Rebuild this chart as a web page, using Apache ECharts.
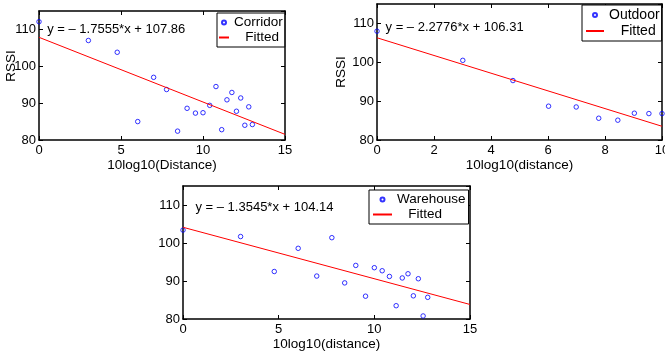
<!DOCTYPE html>
<html>
<head>
<meta charset="utf-8">
<script src="https://cdn.jsdelivr.net/npm/echarts@6/dist/echarts.min.js"></script>
<style>
html,body{margin:0;padding:0;background:#fff;}
#chart{width:665px;height:353px;}
</style>
</head>
<body>
<div id="chart"></div>
<script>
// 10log10(distance) for distances 1..20 m
const distanceDb = [0, 3.01, 4.77, 6.02, 6.99, 7.78, 8.45, 9.03, 9.54, 10, 10.41, 10.79, 11.14, 11.46, 11.76, 12.04, 12.30, 12.55, 12.79, 13.01];

const corridorX = distanceDb.slice(0, 20);
const corridorY = [112.1, 107.0, 103.8, 85.0, 97.0, 93.7, 82.4, 88.6, 87.3, 87.4, 89.4, 94.5, 82.8, 90.9, 92.9, 87.8, 91.4, 84.0, 89.0, 84.2];

const outdoorX = distanceDb.slice(0, 10);
const outdoorY = [108.0, 100.5, 95.3, 88.7, 88.5, 85.6, 85.1, 86.9, 86.8, 86.8];

const warehouseX = distanceDb.slice(0, 19);
const warehouseY = [103.4, 101.7, 92.5, 98.6, 91.3, 101.4, 89.5, 94.1, 86.0, 93.5, 92.7, 91.2, 83.5, 90.8, 91.9, 86.1, 90.6, 80.8, 85.7];

// fitted line end points
const fitCorridorX = [0, 15];
const fitCorridorY = [107.86, 81.53];
const fitOutdoorX = [0, 10];
const fitOutdoorY = [106.31, 83.53];
const fitWarehouseX = [0, 15];
const fitWarehouseY = [104.14, 83.82];

const equations = ['y = \u2013 1.7555*x + 107.86', 'y = \u2013 2.2776*x + 106.31', 'y = \u2013 1.3545*x + 104.14'];
const equationAnchors = [[0.5, 110], [0.3, 109], [0.65, 109.3]];
const seriesNames = ['Corridor', 'Outdoor', 'Warehouse'];
const xNames = ['10log10(Distance)', '10log10(distance)', '10log10(distance)'];

const zip = (xs, ys) => xs.map((x, i) => [x, ys[i]]);
const FONT = 'Liberation Sans, Arial, Helvetica, sans-serif';

const grids = [
  {left: 39, top: 11, width: 246, height: 129, outerBoundsMode: 'none', containLabel: false},
  {left: 377, top: 4, width: 285, height: 136, outerBoundsMode: 'none', containLabel: false},
  {left: 183, top: 186, width: 287, height: 133, outerBoundsMode: 'none', containLabel: false}
];
const xRanges = [[0, 15, 5], [0, 10, 2], [0, 15, 5]];

const xAxes = [], yAxes = [];
grids.forEach((g, i) => {
  const [mn, mx, iv] = xRanges[i];
  const common = {
    gridIndex: i, type: 'value', min: mn, max: mx, interval: iv,
    axisLine: {show: true, onZero: false, lineStyle: {color: '#000', width: 1.5}},
    axisTick: {show: true, inside: true, length: 4, lineStyle: {color: '#000'}},
    splitLine: {show: false}
  };
  xAxes.push(Object.assign({}, common, {
    position: 'bottom',
    name: xNames[i], nameLocation: 'middle', nameGap: i === 2 ? 15 : 16,
    nameTextStyle: {color: '#000', fontSize: 13.5, fontFamily: FONT},
    axisLabel: {color: '#000', fontSize: 13, fontFamily: FONT, margin: 4}
  }));
  xAxes.push(Object.assign({}, common, {position: 'top', axisLabel: {show: false}}));
  const ycommon = {
    gridIndex: i, type: 'value', min: 80, max: 115, interval: 10,
    axisLine: {show: true, onZero: false, lineStyle: {color: '#000', width: 1.5}},
    axisTick: {show: true, inside: true, length: 4, lineStyle: {color: '#000'}},
    splitLine: {show: false}
  };
  yAxes.push(Object.assign({}, ycommon, {
    position: 'left',
    name: i === 1 ? 'RSSI' : '', nameLocation: 'middle', nameGap: 25,
    nameTextStyle: {color: '#000', fontSize: 13.5, fontFamily: FONT},
    axisLabel: {color: '#000', fontSize: 13, fontFamily: FONT, margin: 3, showMaxLabel: false}
  }));
  yAxes.push(Object.assign({}, ycommon, {position: 'right', axisLabel: {show: false}}));
});

const pointSets = [zip(corridorX, corridorY), zip(outdoorX, outdoorY), zip(warehouseX, warehouseY)];
const fitSets = [zip(fitCorridorX, fitCorridorY), zip(fitOutdoorX, fitOutdoorY), zip(fitWarehouseX, fitWarehouseY)];

const series = [];
for (let i = 0; i < 3; i++) {
  series.push({
    name: 'Fitted', type: 'line', xAxisIndex: 2 * i, yAxisIndex: 2 * i,
    data: fitSets[i], symbol: 'none', silent: true,
    lineStyle: {color: '#ff0000', width: 1}, itemStyle: {color: '#ff0000'}
  });
  series.push({
    name: seriesNames[i], type: 'scatter', xAxisIndex: 2 * i, yAxisIndex: 2 * i,
    data: pointSets[i], symbol: 'circle', symbolSize: 4.5, clip: false,
    itemStyle: {color: 'rgba(0,0,0,0)', borderColor: '#0000ff', borderWidth: 1}
  });
}

const legendBase = {
  orient: 'vertical', borderColor: '#000', borderWidth: 1, backgroundColor: '#fff',
  itemGap: 0, selectedMode: false, borderRadius: 0,
  formatter: n => n === 'Fitted' ? '   ' + n : n
};
const fittedItem = {name: 'Fitted', itemStyle: {opacity: 0}};
const legends = [
  Object.assign({}, legendBase, {data: ['Corridor', fittedItem], left: 217, top: 13, padding: [2, 2, 2, 1], itemWidth: 10, itemHeight: 4,
    textStyle: {color: '#000', fontSize: 13.5, fontFamily: FONT, lineHeight: 15}}),
  Object.assign({}, legendBase, {data: ['Outdoor', fittedItem], left: 582, top: 5, padding: [2, 2, 2, 3], itemWidth: 18, itemHeight: 4,
    textStyle: {color: '#000', fontSize: 14, fontFamily: FONT, lineHeight: 16}}),
  Object.assign({}, legendBase, {data: ['Warehouse', fittedItem], left: 369, top: 190, padding: [2, 3, 2, 3], itemWidth: 19, itemHeight: 4,
    textStyle: {color: '#000', fontSize: 13.5, fontFamily: FONT, lineHeight: 15}})
];

const chart = echarts.init(document.getElementById('chart'), null, {renderer: 'canvas'});
chart.setOption({
  animation: false,
  backgroundColor: '#fff',
  grid: grids,
  xAxis: xAxes,
  yAxis: yAxes,
  legend: legends,
  series: series
});

const graphics = equations.map((t, i) => {
  const p = chart.convertToPixel({xAxisIndex: 2 * i, yAxisIndex: 2 * i}, equationAnchors[i]);
  return {type: 'text', x: p[0], y: p[1], z: 100,
    style: {text: t, fill: '#000', font: '13px ' + FONT, textVerticalAlign: 'middle', verticalAlign: 'middle'}};
});
// y-axis title of the first panel (sits a little above the axis middle in the original)
graphics.push({type: 'text', x: 11, y: 66, rotation: Math.PI / 2, z: 100,
  style: {text: 'RSSI', fill: '#000', font: '13.5px ' + FONT, align: 'center', verticalAlign: 'middle'}});
chart.setOption({graphic: graphics});
</script>
</body>
</html>
